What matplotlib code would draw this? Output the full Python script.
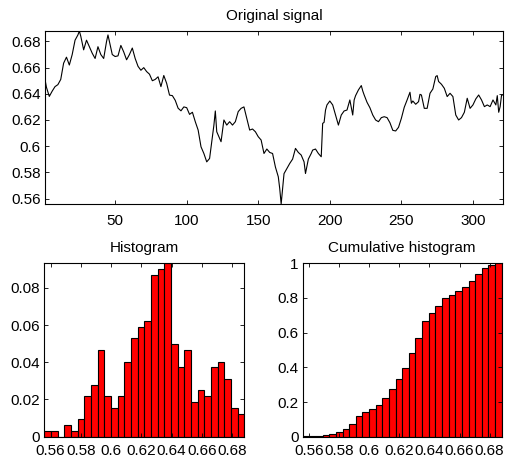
import matplotlib
matplotlib.use('Agg')
from matplotlib import pyplot as plt
import numpy as np

plt.rcParams['font.family'] = ['Liberation Sans', 'DejaVu Sans']

# signal (sample index, value)
sig_x = [1, 2, 4, 6, 8, 10, 12, 14, 16, 18, 20, 22, 24, 25, 26, 28, 30, 32, 34, 36,
         38, 40, 42, 44, 45, 46, 48, 50, 52, 54, 56, 58, 60, 62, 64, 66, 68, 70, 72, 74,
         76, 78, 80, 82, 84, 86, 88, 90, 92, 94, 96, 98, 100, 102, 104, 106, 108, 110, 112, 114,
         116, 118, 119, 120, 121, 122, 124, 126, 128, 130, 132, 134, 136, 138, 140, 142, 144, 146, 148, 150,
         152, 154, 156, 158, 160, 162, 164, 165, 166, 167, 168, 170, 172, 174, 176, 178, 180, 182, 183, 185,
         187, 188, 190, 192, 194, 195, 196, 197, 198, 200, 202, 204, 206, 208, 210, 212, 214, 216, 217, 218,
         220, 222, 223, 224, 226, 228, 230, 232, 234, 236, 238, 240, 242, 244, 246, 248, 250, 252, 254, 256,
         257, 258, 260, 262, 263, 264, 266, 268, 270, 272, 274, 275, 276, 278, 280, 282, 284, 286, 288, 290,
         292, 294, 296, 298, 300, 302, 304, 306, 308, 310, 312, 314, 316, 317, 318, 319, 320, 321]
sig_y = [0.651, 0.645, 0.638, 0.642, 0.6455, 0.647, 0.651, 0.6634, 0.668, 0.662,
         0.670, 0.681, 0.685, 0.688, 0.684, 0.6736, 0.681, 0.676, 0.671, 0.667,
         0.676, 0.670, 0.667, 0.680, 0.685, 0.680, 0.670, 0.6685, 0.669, 0.677,
         0.672, 0.666, 0.670, 0.675, 0.667, 0.661, 0.658, 0.660, 0.657, 0.655,
         0.650, 0.651, 0.653, 0.6455, 0.654, 0.648, 0.639, 0.6386, 0.635, 0.629,
         0.627, 0.630, 0.6294, 0.6243, 0.6259, 0.6187, 0.6123, 0.5995, 0.5944, 0.588,
         0.5906, 0.6072, 0.616, 0.6269, 0.611, 0.6085, 0.6034, 0.620, 0.6161, 0.6187,
         0.6161, 0.6187, 0.6264, 0.6289, 0.630, 0.6213, 0.6123, 0.6131, 0.611, 0.6072,
         0.6047, 0.5944, 0.5978, 0.5952, 0.5944, 0.584, 0.5766, 0.5676, 0.5558, 0.567,
         0.579, 0.5829, 0.5868, 0.5901, 0.5983, 0.5952, 0.5932, 0.588, 0.5791, 0.5901,
         0.5944, 0.597, 0.5978, 0.5944, 0.5919, 0.6174, 0.6182, 0.6276, 0.6315, 0.6345,
         0.6315, 0.6238, 0.6161, 0.6238, 0.6269, 0.6276, 0.6353, 0.6238, 0.6353, 0.6386,
         0.643, 0.6463, 0.6422, 0.6391, 0.6335, 0.6294, 0.6238, 0.620, 0.6187, 0.6218,
         0.6225, 0.6218, 0.6179, 0.6121, 0.6116, 0.6144, 0.6213, 0.6297, 0.6353, 0.6412,
         0.6328, 0.6345, 0.632, 0.634, 0.6396, 0.6391, 0.6289, 0.6289, 0.6404, 0.6437,
         0.6532, 0.6539, 0.6494, 0.6473, 0.6442, 0.6379, 0.6404, 0.6379, 0.6238, 0.620,
         0.6218, 0.6259, 0.6366, 0.6289, 0.6315, 0.6361, 0.6391, 0.6353, 0.6302, 0.6315,
         0.6302, 0.6353, 0.6315, 0.6386, 0.6259, 0.6302, 0.6391, 0.6391]

# histogram counts (30 bins)
hist_counts = [1, 1, 0, 2, 1, 3, 7, 9, 15, 7, 5, 7, 13, 17, 19, 20, 28, 29, 30, 16,
               12, 15, 6, 8, 7, 12, 13, 10, 5, 4]

sig_ticks = [0.56, 0.58, 0.6, 0.62, 0.64, 0.66, 0.68]
idx_ticks = [50, 100, 150, 200, 250, 300]
hist_yticks = [0, 0.02, 0.04, 0.06, 0.08]
cum_yticks = [0, 0.2, 0.4, 0.6, 0.8, 1]

fs = 11


def style(ax, xpad=6):
    ax.tick_params(direction='in', length=3, width=0.6, top=True, right=True,
                   labelsize=fs, colors='black')
    ax.tick_params(axis='x', pad=xpad)
    ax.tick_params(axis='y', pad=3)
    for s in ax.spines.values():
        s.set_linewidth(0.8)


fig = plt.figure(figsize=(5.05, 4.63), dpi=100)

# original signal
ax1 = fig.add_axes([45 / 505, 1 - 204 / 463, 458 / 505, 173 / 463])
ax1.plot(sig_x, sig_y, color='black', lw=0.8)
ax1.set_xlim(1, 321)
ax1.set_ylim(min(sig_y), max(sig_y))
ax1.set_xticks(idx_ticks)
ax1.set_yticks(sig_ticks)
ax1.set_yticklabels(['%g' % t for t in sig_ticks])
ax1.set_title('Original signal', fontsize=fs, pad=8)
style(ax1, xpad=7)

# histogram
counts = np.array(hist_counts, dtype=float)
frac = counts / counts.sum()
edges = np.linspace(min(sig_y), max(sig_y), len(counts) + 1)
width = edges[1] - edges[0]

ax2 = fig.add_axes([44.3 / 505, 1 - 436.7 / 463, 200 / 505, 173.4 / 463])
ax2.bar(edges[:-1], frac, width=width, align='edge', color='red', edgecolor='black', lw=0.8)
ax2.set_xlim(edges[0], edges[-1])
ax2.set_ylim(0, frac.max())
ax2.set_xticks(sig_ticks)
ax2.set_xticklabels(['%g' % t for t in sig_ticks])
ax2.set_yticks(hist_yticks)
ax2.set_yticklabels(['%g' % t for t in hist_yticks])
ax2.set_title('Histogram', fontsize=fs, pad=8)
style(ax2, xpad=5)

# cumulative histogram
ax3 = fig.add_axes([302.7 / 505, 1 - 436.7 / 463, 199 / 505, 173.4 / 463])
ax3.bar(edges[:-1], np.cumsum(frac), width=width, align='edge', color='red', edgecolor='black', lw=0.8)
ax3.set_xlim(edges[0], edges[-1])
ax3.set_ylim(0, 1)
ax3.set_xticks(sig_ticks)
ax3.set_xticklabels(['%g' % t for t in sig_ticks])
ax3.set_yticks(cum_yticks)
ax3.set_yticklabels(['%g' % t for t in cum_yticks])
ax3.set_title('Cumulative histogram', fontsize=fs, pad=8)
style(ax3, xpad=5)

fig.savefig('out.png', dpi=100)
